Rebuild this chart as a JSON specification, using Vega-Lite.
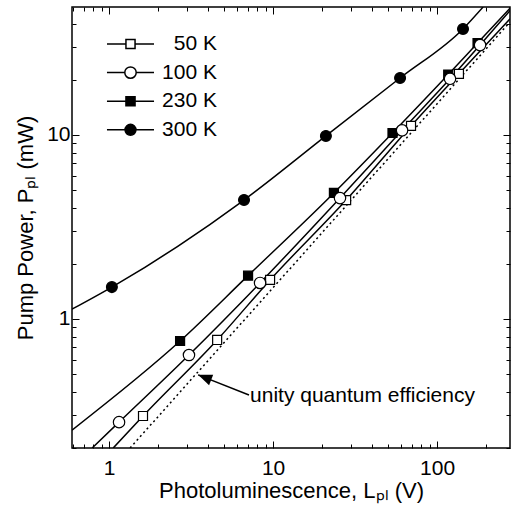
{
  "$schema": "https://vega.github.io/schema/vega-lite/v6.json",
  "width": 438,
  "height": 441,
  "autosize": {"type": "none"},
  "padding": {"left": 72, "top": 7, "right": 1, "bottom": 62},
  "background": "white",
  "config": {
    "view": {"stroke": "black", "strokeWidth": 1.5},
    "font": "Liberation Sans",
    "axis": {
      "grid": false, "domain": false, "tickColor": "black", "tickWidth": 1,
      "labelColor": "black", "titleColor": "black",
      "labelFont": "Liberation Sans", "titleFont": "Liberation Sans",
      "labelFontSize": 21, "titleFontSize": 22, "titleFontWeight": "normal",
      "labelOverlap": false
    },
    "legend": {"orient": "none", "legendX": 44.5, "legendY": 23, "padding": 0,
      "labelFont": "Liberation Sans", "labelFontSize": 21, "labelColor": "black", "labelAlign": "right", "labelOffset": 72.5, "labelLimit": 300,
      "symbolSize": 676, "symbolStrokeWidth": 1.5, "symbolStrokeColor": "black", "symbolOpacity": 1, "rowPadding": 4.6}
  },
  "data": {"values": [
    {"k": "c", "s": "300 K", "L": 0.594, "P": 1.13},
    {"k": "c", "s": "300 K", "L": 1.04, "P": 1.49},
    {"k": "c", "s": "300 K", "L": 6.65, "P": 4.43},
    {"k": "c", "s": "300 K", "L": 21.0, "P": 9.88},
    {"k": "c", "s": "300 K", "L": 59.5, "P": 20.4},
    {"k": "c", "s": "300 K", "L": 144, "P": 37.7},
    {"k": "c", "s": "300 K", "L": 191, "P": 49.6},
    {"k": "c", "s": "230 K", "L": 0.594, "P": 0.249},
    {"k": "c", "s": "230 K", "L": 2.71, "P": 0.759},
    {"k": "c", "s": "230 K", "L": 7.04, "P": 1.72},
    {"k": "c", "s": "230 K", "L": 23.5, "P": 4.84},
    {"k": "c", "s": "230 K", "L": 53.5, "P": 10.25},
    {"k": "c", "s": "230 K", "L": 117, "P": 21.3},
    {"k": "c", "s": "230 K", "L": 176.6, "P": 31.6},
    {"k": "c", "s": "230 K", "L": 283, "P": 49.6},
    {"k": "c", "s": "100 K", "L": 0.788, "P": 0.199},
    {"k": "c", "s": "100 K", "L": 1.15, "P": 0.275},
    {"k": "c", "s": "100 K", "L": 3.07, "P": 0.637},
    {"k": "c", "s": "100 K", "L": 8.33, "P": 1.57},
    {"k": "c", "s": "100 K", "L": 25.6, "P": 4.54},
    {"k": "c", "s": "100 K", "L": 61.2, "P": 10.6},
    {"k": "c", "s": "100 K", "L": 120, "P": 20.2},
    {"k": "c", "s": "100 K", "L": 183, "P": 30.8},
    {"k": "c", "s": "100 K", "L": 291, "P": 49.6},
    {"k": "c", "s": "50 K", "L": 1.06, "P": 0.199},
    {"k": "c", "s": "50 K", "L": 1.61, "P": 0.297},
    {"k": "c", "s": "50 K", "L": 4.56, "P": 0.769},
    {"k": "c", "s": "50 K", "L": 9.59, "P": 1.63},
    {"k": "c", "s": "50 K", "L": 27.9, "P": 4.43},
    {"k": "c", "s": "50 K", "L": 69.4, "P": 11.2},
    {"k": "c", "s": "50 K", "L": 136, "P": 21.5},
    {"k": "c", "s": "50 K", "L": 279, "P": 42.8},
    {"k": "u", "s": "unity", "L": 1.343, "P": 0.199},
    {"k": "u", "s": "unity", "L": 278.6, "P": 41.1},
    {"k": "p", "s": "230 K", "L": 2.71, "P": 0.759},
    {"k": "p", "s": "230 K", "L": 7.04, "P": 1.72},
    {"k": "p", "s": "230 K", "L": 23.5, "P": 4.84},
    {"k": "p", "s": "230 K", "L": 53.5, "P": 10.25},
    {"k": "p", "s": "230 K", "L": 117, "P": 21.3},
    {"k": "p", "s": "230 K", "L": 176.6, "P": 31.6},
    {"k": "p", "s": "50 K", "L": 1.61, "P": 0.297},
    {"k": "p", "s": "50 K", "L": 4.56, "P": 0.769},
    {"k": "p", "s": "50 K", "L": 9.59, "P": 1.63},
    {"k": "p", "s": "50 K", "L": 27.9, "P": 4.43},
    {"k": "p", "s": "50 K", "L": 69.4, "P": 11.2},
    {"k": "p", "s": "50 K", "L": 136, "P": 21.5},
    {"k": "p", "s": "100 K", "L": 1.15, "P": 0.275},
    {"k": "p", "s": "100 K", "L": 3.07, "P": 0.637},
    {"k": "p", "s": "100 K", "L": 8.33, "P": 1.57},
    {"k": "p", "s": "100 K", "L": 25.6, "P": 4.54},
    {"k": "p", "s": "100 K", "L": 61.2, "P": 10.6},
    {"k": "p", "s": "100 K", "L": 120, "P": 20.2},
    {"k": "p", "s": "100 K", "L": 183, "P": 30.8},
    {"k": "p", "s": "300 K", "L": 1.04, "P": 1.49},
    {"k": "p", "s": "300 K", "L": 6.65, "P": 4.43},
    {"k": "p", "s": "300 K", "L": 21.0, "P": 9.88},
    {"k": "p", "s": "300 K", "L": 59.5, "P": 20.4},
    {"k": "p", "s": "300 K", "L": 144, "P": 37.7},
    {"k": "a", "L": 7.13, "P": 0.386, "L2": 3.49, "P2": 0.497},
    {"k": "h", "L": 3.49, "P": 0.497},
    {"k": "t", "L": 7.24, "P": 0.355, "label": "unity quantum efficiency"}
  ]},
  "layer": [
    {
      "transform": [{"filter": "datum.k === 'c'"}],
      "mark": {"type": "line", "clip": true, "interpolate": "monotone", "color": "black", "strokeWidth": 1.5},
      "encoding": {
        "x": {"field": "L", "type": "quantitative",
          "scale": {"type": "log", "domain": [0.594, 278.6], "nice": false},
          "axis": {"orient": "bottom",
            "values": [0.6, 0.7, 0.8, 0.9, 1, 2, 3, 4, 5, 6, 7, 8, 9, 10, 20, 30, 40, 50, 60, 70, 80, 90, 100, 200],
            "labelExpr": "(datum.value == 1 || datum.value == 10 || datum.value == 100) ? format(datum.value, 'd') : ''",
            "tickSize": {"condition": {"test": "datum.value == 1 || datum.value == 10 || datum.value == 100", "value": -7}, "value": -4},
            "labelPadding": 16,
            "title": "Photoluminescence, Lₚₗ (V)", "titlePadding": -1}},
        "y": {"field": "P", "type": "quantitative",
          "scale": {"type": "log", "domain": [0.199, 49.6], "nice": false},
          "axis": {"orient": "left",
            "values": [0.2, 0.3, 0.4, 0.5, 0.6, 0.7, 0.8, 0.9, 1, 2, 3, 4, 5, 6, 7, 8, 9, 10, 20, 30, 40],
            "labelExpr": "(datum.value == 1 || datum.value == 10) ? format(datum.value, 'd') : ''",
            "tickSize": {"condition": {"test": "datum.value == 1 || datum.value == 10", "value": -7}, "value": -4},
            "labelPadding": 9,
            "title": "Pump Power, Pₚₗ (mW)", "titlePadding": 9}},
        "detail": {"field": "s"}
      }
    },
    {
      "transform": [{"filter": "datum.k === 'u'"}],
      "mark": {"type": "line", "clip": true, "color": "black", "strokeWidth": 1.5, "strokeDash": [2, 3]},
      "encoding": {
        "x": {"field": "L", "type": "quantitative",
          "axis": {"orient": "top", "labels": false, "title": null,
            "values": [0.6, 0.7, 0.8, 0.9, 1, 2, 3, 4, 5, 6, 7, 8, 9, 10, 20, 30, 40, 50, 60, 70, 80, 90, 100, 200],
            "tickSize": {"condition": {"test": "datum.value == 1 || datum.value == 10 || datum.value == 100", "value": -7}, "value": -4}}},
        "y": {"field": "P", "type": "quantitative",
          "axis": {"orient": "right", "labels": false, "title": null,
            "values": [0.2, 0.3, 0.4, 0.5, 0.6, 0.7, 0.8, 0.9, 1, 2, 3, 4, 5, 6, 7, 8, 9, 10, 20, 30, 40],
            "tickSize": {"condition": {"test": "datum.value == 1 || datum.value == 10", "value": -7}, "value": -4}}}
      }
    },
    {
      "transform": [{"filter": "datum.k === 'p'"}],
      "mark": {"type": "point", "filled": true, "stroke": "black", "strokeWidth": 1.2, "opacity": 1, "size": 130},
      "encoding": {
        "x": {"field": "L", "type": "quantitative", "axis": null},
        "y": {"field": "P", "type": "quantitative", "axis": null},
        "shape": {"field": "s", "type": "nominal",
          "scale": {"domain": ["50 K", "100 K", "230 K", "300 K"], "range": ["M-0.79,-0.79H0.79V0.79H-0.79Z", "circle", "M-0.79,-0.79H0.79V0.79H-0.79Z", "M0.95,0A0.95,0.95,0,1,1,-0.95,0A0.95,0.95,0,1,1,0.95,0Z"]},
          "legend": null},
        "fill": {"field": "s", "type": "nominal",
          "scale": {"domain": ["50 K", "100 K", "230 K", "300 K"], "range": ["white", "white", "black", "black"]},
          "legend": null}
      }
    },
    {
      "transform": [{"filter": "datum.k === 'p'"}],
      "mark": {"type": "point", "filled": true, "strokeWidth": 1.5, "opacity": 0, "size": 676},
      "encoding": {
        "x": {"field": "L", "type": "quantitative", "axis": null},
        "y": {"field": "P", "type": "quantitative", "axis": null},
        "shape": {"field": "s", "type": "nominal",
          "scale": {"domain": ["50 K", "100 K", "230 K", "300 K"], "range": [
            "M-1.81,0H-0.35M0.35,0H1.81M-0.35,-0.35H0.35V0.35H-0.35Z",
            "M-1.81,0H-0.44M0.44,0H1.81M0.44,0A0.44,0.44,0,1,1,-0.44,0A0.44,0.44,0,1,1,0.44,0Z",
            "M-1.81,0H-0.35M0.35,0H1.81M-0.35,-0.35H0.35V0.35H-0.35Z",
            "M-1.81,0H-0.42M0.42,0H1.81M0.42,0A0.42,0.42,0,1,1,-0.42,0A0.42,0.42,0,1,1,0.42,0Z"]},
          "legend": {"title": null, "symbolOpacity": 1, "symbolStrokeWidth": 1.5}},
        "fill": {"field": "s", "type": "nominal",
          "scale": {"domain": ["50 K", "100 K", "230 K", "300 K"], "range": ["white", "white", "black", "black"]},
          "legend": {"title": null, "symbolOpacity": 1, "symbolStrokeWidth": 1.5}},
        "stroke": {"field": "s", "type": "nominal",
          "scale": {"domain": ["50 K", "100 K", "230 K", "300 K"], "range": ["black", "black", "black", "black"]},
          "legend": {"title": null, "symbolOpacity": 1, "symbolStrokeWidth": 1.5}}
      }
    },
    {
      "transform": [{"filter": "datum.k === 'a'"}],
      "mark": {"type": "rule", "color": "black", "strokeWidth": 1.5},
      "encoding": {
        "x": {"field": "L", "type": "quantitative", "axis": null},
        "y": {"field": "P", "type": "quantitative", "axis": null},
        "x2": {"field": "L2"},
        "y2": {"field": "P2"}
      }
    },
    {
      "transform": [{"filter": "datum.k === 'h'"}],
      "mark": {"type": "point", "shape": "M0,0L-1,-0.4L-1,0.4Z", "angle": 201.4, "size": 784, "filled": true, "color": "black", "opacity": 1},
      "encoding": {
        "x": {"field": "L", "type": "quantitative", "axis": null},
        "y": {"field": "P", "type": "quantitative", "axis": null}
      }
    },
    {
      "transform": [{"filter": "datum.k === 't'"}],
      "mark": {"type": "text", "align": "left", "baseline": "alphabetic", "fontSize": 21, "font": "Liberation Sans", "color": "black"},
      "encoding": {
        "x": {"field": "L", "type": "quantitative", "axis": null},
        "y": {"field": "P", "type": "quantitative", "axis": null},
        "text": {"field": "label"}
      }
    }
  ],
  "resolve": {"scale": {"shape": "independent", "fill": "independent", "stroke": "independent"}, "axis": {"x": "independent", "y": "independent"}}
}
